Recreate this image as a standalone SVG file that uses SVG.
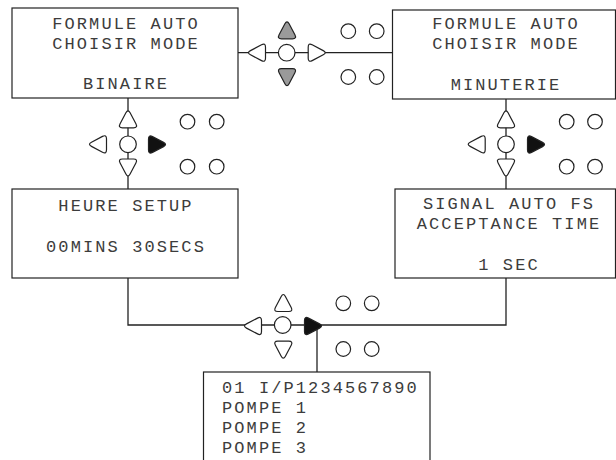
<svg xmlns="http://www.w3.org/2000/svg" xmlns:xlink="http://www.w3.org/1999/xlink" width="616" height="460" viewBox="0 0 616 460">
<style>
.box{fill:#fff;stroke:#222;stroke-width:1.2}
.t{font-family:"Liberation Mono","Courier New",monospace;font-size:17px;letter-spacing:2.1px;fill:#3c3c3c}
.c{text-anchor:middle}
.wire{fill:none;stroke:#222;stroke-width:1.3}
.btn{fill:#fff;stroke:#222;stroke-width:1.2}
.gray{fill:#9a9a9a}
.blk{fill:#111}
</style>
<defs>
<path id="tri" d="M-9,-5.5 Q-9,-10 -5.02,-7.9 L6.02,-2.1 Q10,0 6.02,2.1 L-5.02,7.9 Q-9,10 -9,5.5 Z" transform="translate(0.5,0)"/>
</defs>
<g id="connectors">
<line class="wire" x1="238" y1="52.7" x2="392.5" y2="52.7"/>
<line class="wire" x1="128" y1="98" x2="128" y2="189"/>
<line class="wire" x1="506" y1="99" x2="506" y2="189"/>
<path class="wire" d="M128,278 V325 H506 V278"/>
<line class="wire" x1="317" y1="325" x2="317" y2="372"/>
</g>
<g id="box-binaire">
<rect class="box" x="12" y="8" width="226" height="90"/>
<text class="t c" x="126" y="29">FORMULE AUTO</text>
<text class="t c" x="126" y="49">CHOISIR MODE</text>
<text class="t c" x="126" y="89">BINAIRE</text>
</g>
<g id="box-minuterie">
<rect class="box" x="392.5" y="10" width="223" height="89"/>
<text class="t c" x="506" y="29">FORMULE AUTO</text>
<text class="t c" x="506" y="49">CHOISIR MODE</text>
<text class="t c" x="506" y="90">MINUTERIE</text>
</g>
<g id="box-heure">
<rect class="box" x="12" y="189" width="226" height="89"/>
<text class="t c" x="126" y="210.5">HEURE SETUP</text>
<text class="t c" x="126" y="251.5">00MINS 30SECS</text>
</g>
<g id="box-signal">
<rect class="box" x="395" y="189" width="220.5" height="89"/>
<text class="t c" x="509" y="209">SIGNAL AUTO FS</text>
<text class="t c" x="509" y="229">ACCEPTANCE TIME</text>
<text class="t c" x="509" y="270">1 SEC</text>
</g>
<g id="box-pompes">
<rect class="box" x="203.5" y="372" width="226.5" height="92"/>
<text class="t" x="222" y="392.5">01 I/P1234567890</text>
<text class="t" x="222" y="412.5">POMPE 1</text>
<text class="t" x="222" y="432.5">POMPE 2</text>
<text class="t" x="222" y="452.5">POMPE 3</text>
</g>
<g id="keys-top">
<use xlink:href="#tri" class="btn" transform="translate(257,52.7) rotate(180)"/>
<circle class="btn" cx="286.7" cy="52.7" r="8.3"/>
<use xlink:href="#tri" class="btn" transform="translate(316.7,52.7)"/>
<use xlink:href="#tri" class="btn gray" transform="translate(287,30.3) rotate(-90)"/>
<use xlink:href="#tri" class="btn gray" transform="translate(287,77.2) rotate(90)"/>
<circle class="btn" cx="348.3" cy="31.2" r="7.3"/>
<circle class="btn" cx="376.7" cy="31.2" r="7.3"/>
<circle class="btn" cx="348.3" cy="77" r="7.3"/>
<circle class="btn" cx="376.7" cy="77" r="7.3"/>
</g>
<g id="keys-left">
<use xlink:href="#tri" class="btn" transform="translate(98,144.3) rotate(180)"/>
<circle class="btn" cx="128" cy="144.3" r="8.3"/>
<use xlink:href="#tri" class="btn blk" transform="translate(157,144.5)"/>
<use xlink:href="#tri" class="btn" transform="translate(128,119.3) rotate(-90)"/>
<use xlink:href="#tri" class="btn" transform="translate(128,167.5) rotate(90)"/>
<circle class="btn" cx="187.5" cy="121.7" r="7.3"/>
<circle class="btn" cx="216.7" cy="121.7" r="7.3"/>
<circle class="btn" cx="187.5" cy="166.7" r="7.3"/>
<circle class="btn" cx="216.7" cy="166.7" r="7.3"/>
</g>
<g id="keys-right">
<use xlink:href="#tri" class="btn" transform="translate(476.7,144.3) rotate(180)"/>
<circle class="btn" cx="506" cy="144.3" r="8.3"/>
<use xlink:href="#tri" class="btn blk" transform="translate(536,144.5)"/>
<use xlink:href="#tri" class="btn" transform="translate(506,119.3) rotate(-90)"/>
<use xlink:href="#tri" class="btn" transform="translate(506,167.5) rotate(90)"/>
<circle class="btn" cx="566.7" cy="121.7" r="7.3"/>
<circle class="btn" cx="595" cy="121.7" r="7.3"/>
<circle class="btn" cx="566.7" cy="166.7" r="7.3"/>
<circle class="btn" cx="595" cy="166.7" r="7.3"/>
</g>
<g id="keys-bottom">
<use xlink:href="#tri" class="btn" transform="translate(253,326) rotate(180)"/>
<circle class="btn" cx="282.7" cy="325" r="8.3"/>
<use xlink:href="#tri" class="btn blk" transform="translate(313,326)"/>
<use xlink:href="#tri" class="btn" transform="translate(283.3,303) rotate(-90)"/>
<use xlink:href="#tri" class="btn" transform="translate(283.3,349.7) rotate(90)"/>
<circle class="btn" cx="343.3" cy="303.3" r="7.3"/>
<circle class="btn" cx="371.7" cy="303.3" r="7.3"/>
<circle class="btn" cx="343.3" cy="349" r="7.3"/>
<circle class="btn" cx="371.7" cy="349" r="7.3"/>
</g>
</svg>
